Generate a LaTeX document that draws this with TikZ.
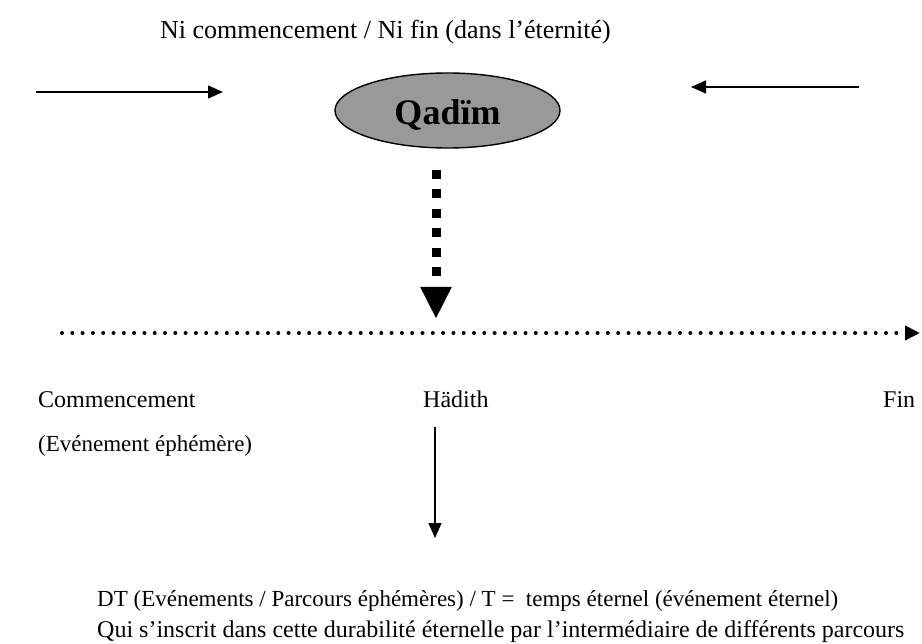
\documentclass[tikz,border=0pt]{standalone}
\usepackage{fontspec}
\setmainfont{Liberation Serif}
\usetikzlibrary{arrows.meta,shapes.geometric}
\tikzset{
  lbl/.style={anchor=base west, inner sep=0pt, font=\fontsize{24}{28}\selectfont},
  thinarrow/.style={line width=1.6pt, -{Triangle[length=15pt,width=13pt]}},
}
\begin{document}
\begin{tikzpicture}[x=1pt,y=-1pt]
\useasboundingbox (0,0) rectangle (922,644);
% title
\node[lbl, font=\fontsize{26}{30}\selectfont] (title) at (160,39) {Ni commencement / Ni fin (dans l’éternité)};
% side arrows
\coordinate (la0) at (36,92);
\coordinate (la1) at (223,92);
\coordinate (ra0) at (859,87);
\coordinate (ra1) at (691,87);
\draw[thinarrow] (la0) -- (la1);
\draw[thinarrow] (ra0) -- (ra1);
% Qadim ellipse
\node[ellipse, draw=black, line width=1.4pt, fill=black!40, minimum width=225pt, minimum height=75pt, inner sep=0pt] (qadim) at (447.5,110.5) {};
\node[anchor=base, inner sep=0pt, font=\fontsize{36}{40}\selectfont\bfseries] (qlabel) at (447.5,125) {Qadïm};
% thick dotted arrow
\coordinate (d0) at (436,170);
\coordinate (d1) at (436,319);
\draw[line width=9pt, dash pattern=on 9pt off 10.5pt, -{Triangle[length=32pt,width=29pt]}] (d0) -- (d1);
% dotted time line
\coordinate (t0) at (62,333);
\coordinate (t1) at (920,333);
\draw[line width=4pt, line cap=round, dash pattern=on 0pt off 10.3pt, -{Triangle[length=15pt,width=14pt,line cap=butt]}] (t0) -- (t1);
% labels
\node[lbl] (comm) at (38,408) {Commencement};
\node[lbl, font=\fontsize{23}{28}\selectfont] (even) at (38,452) {(Evénement éphémère)};
\node[lbl] (hadith) at (423,408) {Hädith};
\node[lbl] (fin) at (883,408) {Fin};
% down arrow
\coordinate (h0) at (435,427);
\coordinate (h1) at (435,538);
\draw[thinarrow] (h0) -- (h1);
% bottom text
\node[lbl, font=\fontsize{23}{28}\selectfont] (dt) at (97,606) {DT (Evénements / Parcours éphémères) / T =\ \ temps éternel (événement éternel)};
\node[lbl, font=\fontsize{24}{28}\selectfont] (qui) at (97,637) {Qui s’inscrit dans cette durabilité éternelle par l’intermédiaire de différents parcours};
\end{tikzpicture}
\end{document}
